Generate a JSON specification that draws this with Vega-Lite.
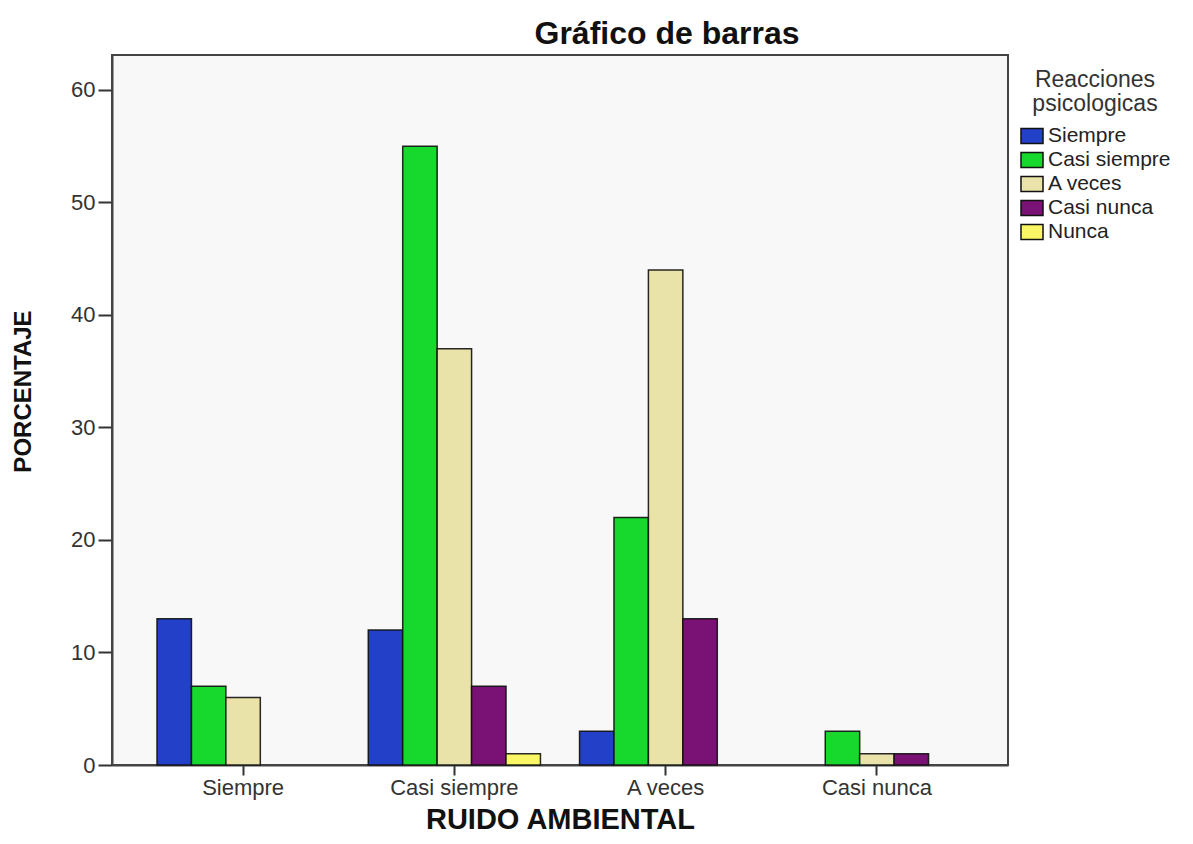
{
  "$schema": "https://vega.github.io/schema/vega-lite/v6.json",
  "autosize": "none",
  "width": 896,
  "height": 710,
  "padding": {"left": 112, "top": 55, "right": 185, "bottom": 79},
  "background": "white",
  "title": {
    "text": "Gráfico de barras",
    "font": "Liberation Sans",
    "fontSize": 32,
    "fontWeight": "bold",
    "color": "#111111",
    "anchor": "middle",
    "dx": 107,
    "baseline": "alphabetic",
    "offset": -21
  },
  "config": {
    "view": {"fill": "#f8f8f8", "stroke": "#444444", "strokeWidth": 2},
    "font": "Liberation Sans"
  },
  "data": {
    "values": [
      {"ruido": "Siempre", "reaccion": "Siempre", "pct": 13},
      {"ruido": "Siempre", "reaccion": "Casi siempre", "pct": 7},
      {"ruido": "Siempre", "reaccion": "A veces", "pct": 6},
      {"ruido": "Casi siempre", "reaccion": "Siempre", "pct": 12},
      {"ruido": "Casi siempre", "reaccion": "Casi siempre", "pct": 55},
      {"ruido": "Casi siempre", "reaccion": "A veces", "pct": 37},
      {"ruido": "Casi siempre", "reaccion": "Casi nunca", "pct": 7},
      {"ruido": "Casi siempre", "reaccion": "Nunca", "pct": 1},
      {"ruido": "A veces", "reaccion": "Siempre", "pct": 3},
      {"ruido": "A veces", "reaccion": "Casi siempre", "pct": 22},
      {"ruido": "A veces", "reaccion": "A veces", "pct": 44},
      {"ruido": "A veces", "reaccion": "Casi nunca", "pct": 13},
      {"ruido": "Casi nunca", "reaccion": "Casi siempre", "pct": 3},
      {"ruido": "Casi nunca", "reaccion": "A veces", "pct": 1},
      {"ruido": "Casi nunca", "reaccion": "Casi nunca", "pct": 1}
    ]
  },
  "mark": {"type": "bar", "stroke": "#111111", "strokeWidth": 1.5, "strokeOpacity": 0.9},
  "encoding": {
    "x": {
      "field": "ruido",
      "type": "nominal",
      "sort": ["Siempre", "Casi siempre", "A veces", "Casi nunca"],
      "scale": {"paddingInner": 0.185, "paddingOuter": 0.213},
      "axis": {
        "title": "RUIDO AMBIENTAL",
        "titleFont": "Liberation Sans",
        "titleFontSize": 29,
        "titleFontWeight": "bold",
        "titleColor": "#111111",
        "titleX": 448,
        "titleY": 63,
        "titleBaseline": "alphabetic",
        "titleAlign": "center",
        "labelAngle": 0,
        "labelFontSize": 22,
        "labelColor": "#333333",
        "labelPadding": 2,
        "tickSize": 10,
        "tickColor": "#333333",
        "tickWidth": 2,
        "domainColor": "#444444",
        "domainWidth": 2,
        "grid": false
      }
    },
    "xOffset": {
      "field": "reaccion",
      "type": "nominal",
      "sort": ["Siempre", "Casi siempre", "A veces", "Casi nunca", "Nunca"],
      "scale": {"domain": ["Siempre", "Casi siempre", "A veces", "Casi nunca", "Nunca"], "paddingInner": 0, "paddingOuter": 0}
    },
    "y": {
      "field": "pct",
      "type": "quantitative",
      "scale": {"domain": [0, 63.1], "nice": false},
      "axis": {
        "title": "PORCENTAJE",
        "titleFont": "Liberation Sans",
        "titleFontSize": 24,
        "titleFontWeight": "bold",
        "titleColor": "#111111",
        "titleX": -82,
        "titleY": 336,
        "titleBaseline": "alphabetic",
        "titleAlign": "center",
        "values": [0, 10, 20, 30, 40, 50, 60],
        "labelFontSize": 22,
        "labelColor": "#333333",
        "labelPadding": 3,
        "tickSize": 14,
        "tickColor": "#333333",
        "tickWidth": 2,
        "domainColor": "#444444",
        "domainWidth": 2,
        "grid": false
      }
    },
    "color": {
      "field": "reaccion",
      "type": "nominal",
      "sort": ["Siempre", "Casi siempre", "A veces", "Casi nunca", "Nunca"],
      "scale": {
        "domain": ["Siempre", "Casi siempre", "A veces", "Casi nunca", "Nunca"],
        "range": ["#2340c8", "#17d82d", "#e9e3a9", "#7a1275", "#f9f766"]
      },
      "legend": {
        "title": ["Reacciones", "psicologicas"],
        "orient": "none",
        "legendX": 908,
        "legendY": 14,
        "padding": 0,
        "titleFont": "Liberation Sans",
        "titleFontSize": 23,
        "titleFontWeight": "normal",
        "titleColor": "#333333",
        "titleAnchor": "middle",
        "titleAlign": "center",
        "titleLineHeight": 24,
        "titlePadding": 8,
        "labelFont": "Liberation Sans",
        "labelFontSize": 21,
        "labelColor": "#222222",
        "labelOffset": 4,
        "symbolType": "M-1,-0.68H1V0.68H-1Z",
        "symbolSize": 484,
        "symbolStrokeColor": "#111111",
        "symbolStrokeWidth": 1.5,
        "symbolOpacity": 1,
        "rowPadding": 1
      }
    }
  }
}
